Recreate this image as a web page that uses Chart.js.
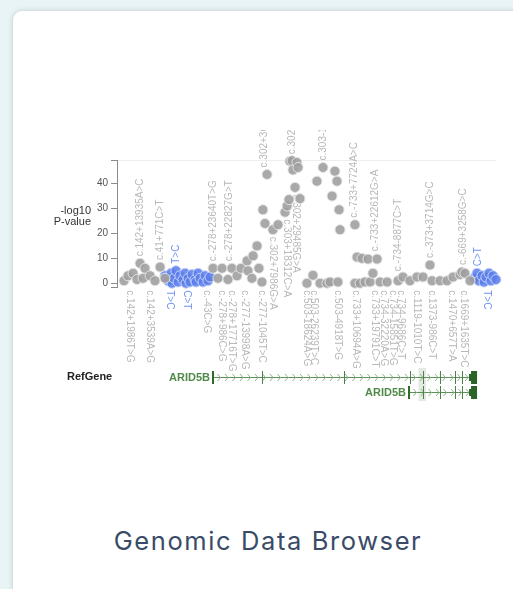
<!DOCTYPE html>
<html><head><meta charset="utf-8">
<script src="https://cdn.jsdelivr.net/npm/chart.js@4.4.1/dist/chart.umd.min.js"></script>
<style>
html,body{margin:0;padding:0;width:513px;height:589px;overflow:hidden;background:#e8f4f6;}
#card{position:absolute;left:12px;top:10px;width:540px;height:620px;background:#fff;border:1px solid #d6dfe1;border-radius:10px;box-shadow:0 0 5px rgba(0,40,60,0.12);}
#title{position:absolute;left:0;width:536px;top:525px;text-align:center;font-family:Inter,"Open Sans",sans-serif;font-size:25.5px;color:#3a4b68;letter-spacing:1.6px;white-space:nowrap}
#c{position:absolute;left:0;top:0;filter:blur(0.35px)}
</style></head>
<body>
<div id="card"></div>
<div id="title">Genomic Data Browser</div>
<canvas id="c" width="513" height="589"></canvas>
<script>
// ---- data (positions in kb along the locus, values = -log10 P) ----
const grayPos = [3.7,5.8,8.5,10.6,12.2,13.8,14.8,17.5,20.1,22.8,25.4,
  50.8,53.4,55.6,58.7,60.8,63.5,65.6,68.8,69.3,71.4,72.0,74.1,75.1,76.7,
  77.2,78.3,79.4,82.5,85.2,88.9,90.0,91.0,91.5,92.6,93.1,94.2,95.2,95.8,96.8,
  100.5,103.7,105.8,107.4,109.0,111.1,112.7,113.8,115.3,116.4,116.9,117.5,118.0,
  125.9,125.9,127.0,128.6,129.6,131.2,132.8,133.9,135.4,137.6,139.2,142.9,
  148.7,151.3,155.0,158.7,161.9,165.6,166.7,170.9,174.6,177.8,181.5,182.5,184.1,186.8];
const grayLogP = [1,3,4,1.5,8,2,6,3,1,6.5,2,
  6,2,6,1.5,6,3,6,9,5,2,11,15,6,0.5,
  29.5,24,43.7,21.5,23.5,28.5,31,33.6,49,49.2,45.5,38.5,48.5,46.5,34,
  0,3.2,41,0,46.5,0,0.5,35,45,41,0.5,29.5,21.5,
  23.5,0,10.5,0,10,0.5,9.7,0.5,4,9.7,0.5,0.5,
  1,2.5,1,2.5,2.5,7.3,1,1,1,2.5,3.5,4.5,4,1];
const bluePos = [25.4,27.0,28.6,29.1,30.2,31.2,32.3,33.3,34.9,36.0,36.5,37.6,38.6,39.7,41.3,41.8,42.9,43.9,45.5,46.6,48.1,49.2,
  188.9,190.5,191.5,193.1,194.2,195.2,196.8,197.9,198.9,200.5,201.6];
const blueLogP = [3,1,4,0,2,5,0.5,3,1.5,4,0,2,0.5,3.5,1.5,0.5,4,2,0.5,3,1,2.5,
  2,4,1,3,0.5,2.5,4,1,3,1.5,2.5];
const yTickValues = [0,10,20,30,40];
const yTitle = ['-log10','P-value'];
const trackName = 'RefGene';
// SNP annotations
const snpText = ['c.142+13935A>C','c.41+771C>T','T>C','c.-278+23640T>G','c.-278+22827G>T','c.302+3G>A','c.302+5G>C','c.303-1G>A',
  'c.-733+7724A>C','c.-733+22612G>A','c.-734-8877C>T','c.-373+3714G>C','c.-669+3258G>C','C>T',
  'c.302+7986G>A','c.303+18312C>A','c.302+29485G>A',
  'c.142+1986T>G','c.142+3539A>G','T>C','C>T','c.-43C>G','c.-278+986C>G','c.-278+17716T>G','c.-277-13998A>G','c.-277-1045T>C',
  'c.503-18624A>G','c.503-26239T>C','c.503-4918T>G','c.733+10694A>G','c.733+19791C>T','c.734-32220A>G','c.734-15851T>G',
  'c.734-9686C>T','c.1119-1010T>C','c.1373-986C>T','c.1470+657T>A','c.1669+1635T>C','T>C'];
const snpPos = [12.2,22.8,31.2,50.8,59.2,77.8,92.6,109.0,
  125.4,136.5,148.7,165.6,183.1,191.0,
  82.5,90.0,94.7,
  6.9,17.5,28.0,37.0,47.6,55.6,60.8,67.7,76.7,
  100.5,104.2,116.9,126.5,136.5,141.3,146.0,150.3,158.7,166.7,177.2,183.6,195.8];
const snpLogP = [8,6.5,5,6,6,43.7,49,46.5,
  23.5,10,2,7.3,4.5,4,
  21.5,28.5,38.5,
  0,0,0,0,0,0,0,0,0,0,0,0,0,0,0,0,0,0,0,0,0,0];
const snpSide = ['up','up','up','up','up','up','up','up','up','up','up','up','up','up',
  'down','down','down',
  'down','down','down','down','down','down','down','down','down','down','down','down','down','down','down','down','down','down','down','down','down','down'];
const snpBlue = [2,13,19,20,38];
// gene models
const geneNames = ['ARID5B','ARID5B'];
const geneStart = [50.8,154.5];
const geneEnd = [190.5,190.5];
const geneExons = [[76.7,120.1,155.0,161.9,170.9,178.8,182.5],[161.9,170.9,178.8,182.5]];
const geneCds = [[186.8,190.5],[186.8,190.5]];
const shadedRegion = [159.5,163.5];

const toPts = (xs, ys) => xs.map((x, i) => ({x, y: ys[i]}));

const labelPlugin = {
  id: 'snpLabels',
  beforeDatasetsDraw(chart) {
    const {ctx, scales:{x, y}} = chart;
    ctx.save();
    ctx.beginPath(); ctx.rect(0, 130, chart.width, chart.height - 130); ctx.clip();
    ctx.font = '10px "Liberation Sans", Arial, sans-serif';
    ctx.textBaseline = 'middle'; ctx.textAlign = 'left';
    snpText.forEach((t, i) => {
      const px = x.getPixelForValue(snpPos[i]);
      const py = y.getPixelForValue(snpLogP[i]);
      ctx.save();
      ctx.fillStyle = snpBlue.includes(i) ? '#7393f2' : '#b8b8b8';
      if (snpSide[i] === 'up') { ctx.translate(px, py - 7); ctx.rotate(-Math.PI/2); }
      else { ctx.translate(px, py + 7); ctx.rotate(Math.PI/2); }
      ctx.fillText(t, 0, 0);
      ctx.restore();
    });
    ctx.restore();
  },
  afterDraw(chart) {
    const {ctx, scales:{x, y}, chartArea} = chart;
    ctx.save();
    // y-axis title
    ctx.fillStyle = '#333'; ctx.font = '11px "Liberation Sans", Arial, sans-serif';
    ctx.textAlign = 'right'; ctx.textBaseline = 'middle';
    ctx.fillText(yTitle[0], chartArea.left - 26, y.getPixelForValue(29));
    ctx.fillText(yTitle[1], chartArea.left - 26, y.getPixelForValue(24.5));
    // gene track
    const rows = [377, 392];
    ctx.font = 'bold 11px "Liberation Sans", Arial, sans-serif';
    ctx.fillStyle = '#222'; ctx.textAlign = 'left';
    ctx.fillText(trackName, 67, rows[0]);
    const sx0 = x.getPixelForValue(shadedRegion[0]), sx1 = x.getPixelForValue(shadedRegion[1]);
    ctx.fillStyle = 'rgba(130,160,120,0.22)';
    ctx.fillRect(sx0, rows[0] - 9, sx1 - sx0, rows[1] - rows[0] + 18);
    geneNames.forEach((g, gi) => {
      const yy = rows[gi];
      const a = x.getPixelForValue(geneStart[gi]), b = x.getPixelForValue(geneEnd[gi]);
      ctx.strokeStyle = '#5e8f59'; ctx.lineWidth = 1;
      ctx.beginPath(); ctx.moveTo(a, yy + 0.5); ctx.lineTo(b, yy + 0.5); ctx.stroke();
      // chevrons
      ctx.strokeStyle = '#8fb58a';
      for (let p = a + 6; p < b - 4; p += 7.5) {
        ctx.beginPath(); ctx.moveTo(p - 1.5, yy - 3); ctx.lineTo(p + 1.5, yy + 0.5); ctx.lineTo(p - 1.5, yy + 4); ctx.stroke();
      }
      // start bar
      ctx.fillStyle = '#2f6a2b'; ctx.fillRect(a - 1, yy - 6, 2, 13);
      // exon ticks
      ctx.strokeStyle = '#4d7f48';
      geneExons[gi].forEach(e => { const ex = Math.round(x.getPixelForValue(e)) + 0.5; ctx.beginPath(); ctx.moveTo(ex, yy - 6); ctx.lineTo(ex, yy + 7); ctx.stroke(); });
      // coding block at end
      const c0 = x.getPixelForValue(geneCds[gi][0]), c1 = x.getPixelForValue(geneCds[gi][1]);
      ctx.fillStyle = '#2a6426';
      ctx.fillRect(c0 + 1, yy - 6, c1 - c0 - 1, 13);
      ctx.fillRect(c0 - 1, yy - 3, 3, 7);
      // label
      ctx.fillStyle = '#4f8a49'; ctx.textAlign = 'right';
      ctx.fillText(g, a - 3, yy + 0.5);
    });
    ctx.restore();
  }
};

new Chart(document.getElementById('c'), {
  type: 'scatter',
  data: { datasets: [
    { data: toPts(grayPos, grayLogP), backgroundColor: 'rgba(160,160,160,0.9)', borderColor: 'rgba(228,228,228,0.95)', borderWidth: 1, pointRadius: 5, clip: false },
    { data: toPts(bluePos, blueLogP), backgroundColor: 'rgba(92,126,234,0.88)', borderColor: 'rgba(195,210,250,0.95)', borderWidth: 1, pointRadius: 5, clip: false }
  ]},
  options: {
    responsive: false, animation: false, devicePixelRatio: 1,
    layout: { padding: { left: 0, top: 160, right: 18, bottom: 302 } },
    plugins: { legend: { display: false }, tooltip: { enabled: false } },
    scales: {
      x: { type: 'linear', position: 'top', min: 0, max: 200,
        ticks: { display: false }, grid: { display: false },
        border: { display: true, color: '#eeeeee' },
        afterFit(s) { s.height = 0; s.paddingLeft = 0; s.paddingRight = 0; } },
      y: { type: 'linear', min: -1.5, max: 49.5,
        afterBuildTicks(s) { s.ticks = [-1.5, ...yTickValues, 49.5].map(v => ({ value: v })); },
        afterFit(s) { s.width = 117; s.paddingTop = 0; s.paddingBottom = 0; },
        ticks: { autoSkip: false, padding: 3, color: '#555', font: { size: 10, family: '"Liberation Sans", Arial, sans-serif' },
          callback: v => yTickValues.includes(v) ? String(v) : '' },
        grid: { drawOnChartArea: false, drawTicks: true, tickLength: 6, color: '#8a8a8a' },
        border: { display: true, color: '#8a8a8a' } }
    }
  },
  plugins: [labelPlugin]
});
</script>
</body></html>
